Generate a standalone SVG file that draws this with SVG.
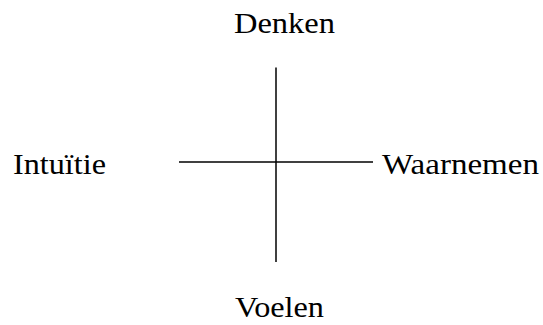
<svg xmlns="http://www.w3.org/2000/svg" width="543" height="325" viewBox="0 0 543 325">
<style>
.lbl{font-family:"Liberation Serif","DejaVu Serif",serif;font-size:30px;fill:#000}
.ln{stroke:#000;stroke-width:1.5;fill:none}
</style>
<rect width="543" height="325" fill="#fff"/>
<g id="connectors">
<line class="ln" x1="276" y1="67.5" x2="276" y2="262"/>
<line class="ln" x1="179" y1="162" x2="373" y2="162"/>
</g>
<g id="denken"><text class="lbl" x="234" y="33" textLength="101" lengthAdjust="spacingAndGlyphs">Denken</text></g>
<g id="intuitie"><text class="lbl" x="13" y="174" textLength="93" lengthAdjust="spacingAndGlyphs">Intuïtie</text></g>
<g id="waarnemen"><text class="lbl" x="382" y="174" textLength="157" lengthAdjust="spacingAndGlyphs">Waarnemen</text></g>
<g id="voelen"><text class="lbl" x="235" y="317" textLength="89" lengthAdjust="spacingAndGlyphs">Voelen</text></g>
</svg>
